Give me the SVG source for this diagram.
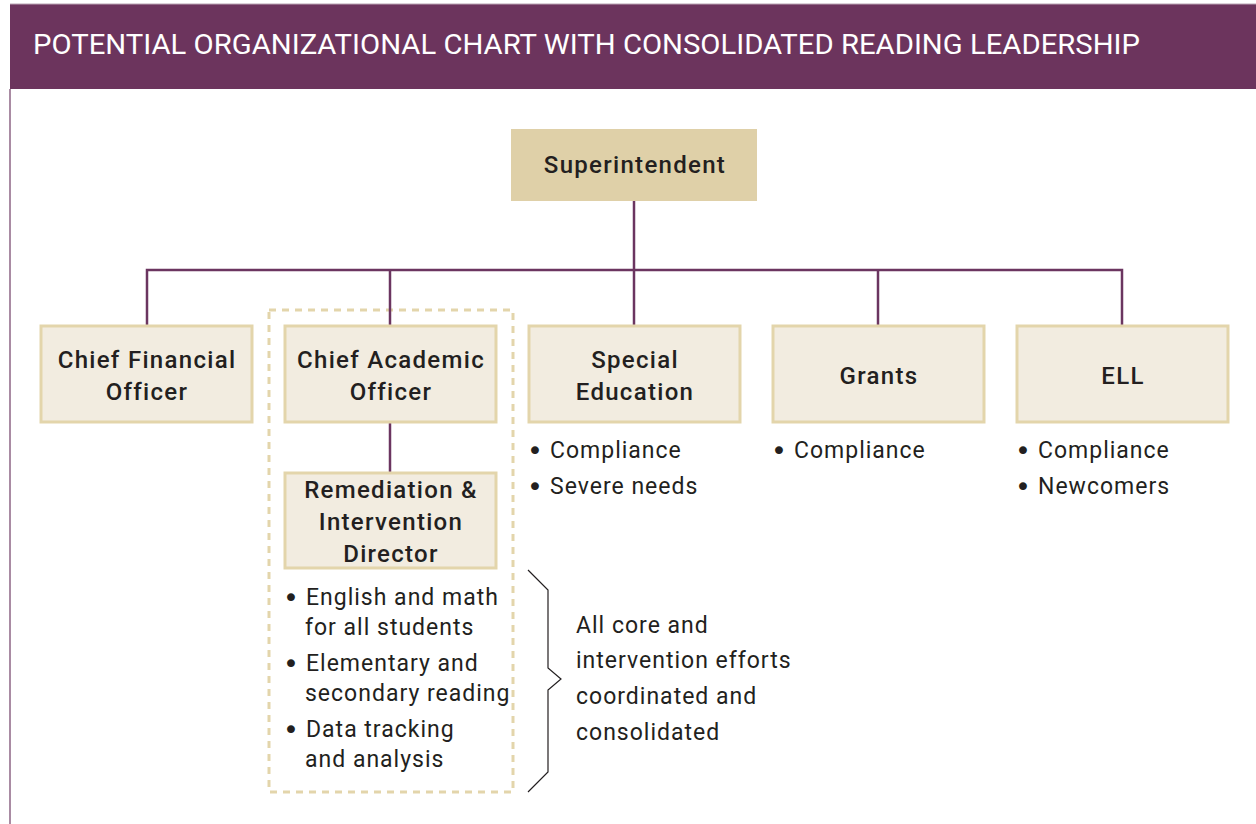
<svg xmlns="http://www.w3.org/2000/svg" width="1256" height="824" viewBox="0 0 1256 824">
<style>
.box{fill:#f2ece0;stroke:#e3d5ab;stroke-width:3}
.top{fill:#dfd0a8}
.lbl{font-family:Roboto,"Liberation Sans",sans-serif;font-size:24px;font-weight:500;fill:#231f20;text-anchor:middle;letter-spacing:1.3px}
.txt{font-family:Roboto,"Liberation Sans",sans-serif;font-size:23px;fill:#231f20;letter-spacing:1px}
.b{font-family:"DejaVu Sans",sans-serif;font-size:27px;letter-spacing:0}
.con{stroke:#6b3560;stroke-width:2.5;fill:none}
</style>
<rect x="0" y="0" width="1256" height="824" fill="#ffffff"/>
<rect x="10" y="4" width="1246" height="85" fill="#6c345d"/>
<line x1="10" y1="4" x2="1256" y2="4" stroke="#b9a3b3" stroke-width="1"/>
<line x1="10" y1="89" x2="10" y2="824" stroke="#8c6585" stroke-width="1.5"/>
<text x="33" y="54" font-family="Roboto,'Liberation Sans',sans-serif" font-size="27" fill="#ffffff" textLength="1107" lengthAdjust="spacingAndGlyphs">POTENTIAL ORGANIZATIONAL CHART WITH CONSOLIDATED READING LEADERSHIP</text>

<rect id="group" x="269" y="310" width="244" height="482" fill="none" stroke="#e3d5ab" stroke-width="3" stroke-dasharray="7 6"/>

<g id="connectors">
<line class="con" x1="634" y1="201" x2="634" y2="325"/>
<polyline class="con" points="147,325 147,270 1122,270 1122,325"/>
<line class="con" x1="390" y1="270" x2="390" y2="325"/>
<line class="con" x1="878" y1="270" x2="878" y2="325"/>
<line class="con" x1="390" y1="423" x2="390" y2="472"/>
</g>

<g id="superintendent">
<rect class="top" x="511" y="129" width="246" height="72"/>
<text class="lbl" x="635" y="173">Superintendent</text>
</g>
<g id="cfo">
<rect class="box" x="41" y="326" width="211" height="96"/>
<text class="lbl" x="147" y="368">Chief Financial</text>
<text class="lbl" x="147" y="400">Officer</text>
</g>
<g id="cao">
<rect class="box" x="285" y="326" width="211" height="96"/>
<text class="lbl" x="391" y="368">Chief Academic</text>
<text class="lbl" x="391" y="400">Officer</text>
</g>
<g id="special-education">
<rect class="box" x="529" y="326" width="211" height="96"/>
<text class="lbl" x="635" y="368">Special</text>
<text class="lbl" x="635" y="400">Education</text>
<text class="txt"><tspan class="b" x="527" y="460">•</tspan><tspan x="550" y="458">Compliance</tspan></text>
<text class="txt"><tspan class="b" x="527" y="496">•</tspan><tspan x="550" y="494">Severe needs</tspan></text>
</g>
<g id="grants">
<rect class="box" x="773" y="326" width="211" height="96"/>
<text class="lbl" x="879" y="384">Grants</text>
<text class="txt"><tspan class="b" x="771" y="460">•</tspan><tspan x="794" y="458">Compliance</tspan></text>
</g>
<g id="ell">
<rect class="box" x="1017" y="326" width="211" height="96"/>
<text class="lbl" x="1123" y="384">ELL</text>
<text class="txt"><tspan class="b" x="1015" y="460">•</tspan><tspan x="1038" y="458">Compliance</tspan></text>
<text class="txt"><tspan class="b" x="1015" y="496">•</tspan><tspan x="1038" y="494">Newcomers</tspan></text>
</g>
<g id="remediation">
<rect class="box" x="285" y="473" width="211" height="95"/>
<text class="lbl" x="391" y="498">Remediation &amp;</text>
<text class="lbl" x="391" y="530">Intervention</text>
<text class="lbl" x="391" y="562">Director</text>
<text class="txt"><tspan class="b" x="283" y="607">•</tspan><tspan x="306" y="605">English and math</tspan></text>
<text class="txt" x="305" y="635">for all students</text>
<text class="txt"><tspan class="b" x="283" y="673">•</tspan><tspan x="306" y="671">Elementary and</tspan></text>
<text class="txt" x="305" y="701">secondary reading</text>
<text class="txt"><tspan class="b" x="283" y="739">•</tspan><tspan x="306" y="737">Data tracking</tspan></text>
<text class="txt" x="305" y="767">and analysis</text>
</g>
<g id="note">
<polyline points="528,570 548,590 548,668 561,679 548,690 548,772 528,792" fill="none" stroke="#231f20" stroke-width="1.2"/>
<text class="txt" x="576" y="633">All core and</text>
<text class="txt" x="576" y="668">intervention efforts</text>
<text class="txt" x="576" y="704">coordinated and</text>
<text class="txt" x="576" y="740">consolidated</text>
</g>
</svg>
